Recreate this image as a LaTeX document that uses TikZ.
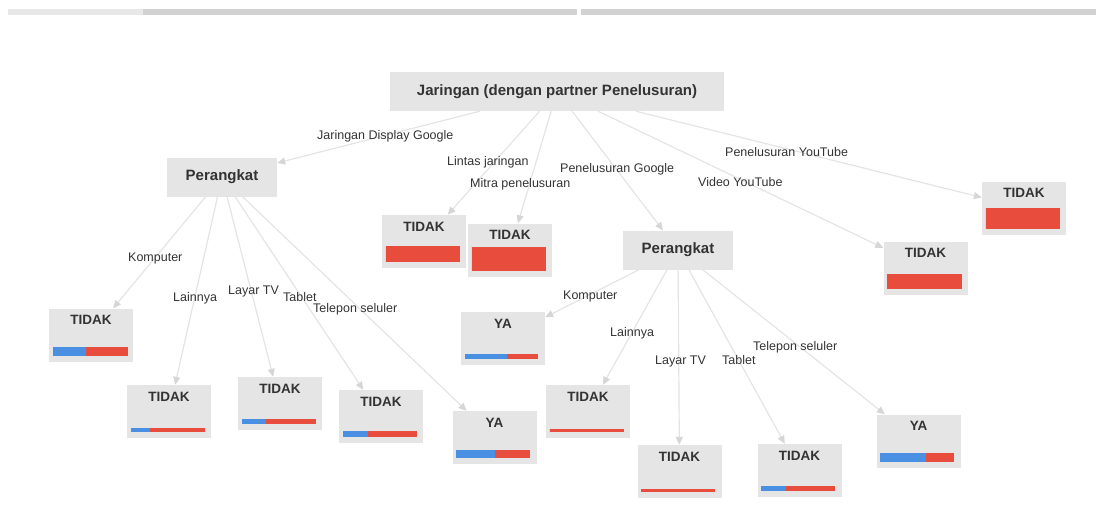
\documentclass[tikz,border=0pt]{standalone}
\usepackage{fontspec}
\setmainfont{Liberation Sans}
\usetikzlibrary{arrows.meta,calc}

\definecolor{boxgray}{HTML}{E5E5E5}
\definecolor{edgegray}{HTML}{E4E4E4}
\definecolor{tipgray}{HTML}{D6D6D6}
\definecolor{barred}{HTML}{E74C3C}
\definecolor{barblue}{HTML}{4A90E2}
\definecolor{txtgray}{HTML}{333333}

% bar at the foot of a leaf: node, blue width, red width, height
\newcommand{\leafbar}[4]{%
  \fill[barblue] ($(#1.south west)+(4,-6)$) rectangle ++(#2,-#4);
  \fill[barred] ($(#1.south west)+(4+#2,-6)$) rectangle ++(#3,-#4);}

\begin{document}
\begin{tikzpicture}[x=1pt,y=-1pt,
    box/.style={fill=boxgray,text=txtgray,inner sep=0pt,minimum width=110pt,minimum height=39pt,font=\bfseries\fontsize{15}{18}\selectfont},
    leaf/.style={fill=boxgray,text=txtgray,inner sep=0pt,minimum width=84pt,text height=16pt,text depth=37pt,font=\bfseries\fontsize{13.5}{16}\selectfont},
    edge/.style={edgegray,line width=1.2pt,-{Triangle[length=8pt,width=7pt,color=tipgray]}},
    lbl/.style={anchor=base west,inner sep=0pt,text=txtgray,font=\fontsize{12.5}{15}\selectfont}]
    \useasboundingbox (0,0) rectangle (1096,515);

    % Top bar
    \fill[gray!18] (8,9) rectangle (143,15);
    \fill[gray!35] (143,9) rectangle (577,15);
    \fill[gray!35] (581,9) rectangle (1096,15);

    % Root
    \node[box,minimum width=334pt] (root) at (557,91.5) {Jaringan (dengan partner Penelusuran)};

    % Second level
    \node[box] (perL) at (222,177) {Perangkat};
    \node[leaf] (lintas) at (424,241.5) {TIDAK};
    \node[leaf] (mitra) at (510,250) {TIDAK};
    \node[box] (perR) at (678,250) {Perangkat};
    \node[leaf] (ytVideo) at (925.5,268) {TIDAK};
    \node[leaf] (ytSearch) at (1024,208) {TIDAK};

    % Devices, left
    \node[leaf] (lKomp) at (91,335) {TIDAK};
    \node[leaf] (lLain) at (169,411.5) {TIDAK};
    \node[leaf] (lTv) at (280,403.5) {TIDAK};
    \node[leaf] (lTab) at (381,416.5) {TIDAK};
    \node[leaf] (lTel) at (494.5,437.5) {YA};

    % Devices, right
    \node[leaf] (rKomp) at (503,338.5) {YA};
    \node[leaf] (rLain) at (588,411.5) {TIDAK};
    \node[leaf] (rTv) at (679.5,471.5) {TIDAK};
    \node[leaf] (rTab) at (799.5,470.5) {TIDAK};
    \node[leaf] (rTel) at (918.5,441) {YA};

    % Bars
    \leafbar{lintas}{0}{74}{16}
    \leafbar{mitra}{0}{74}{24}
    \leafbar{ytVideo}{0}{75}{15}
    \leafbar{ytSearch}{0}{74}{21}
    \leafbar{lKomp}{33}{42}{9}
    \leafbar{lLain}{19}{55}{4}
    \leafbar{lTv}{24}{50}{5}
    \leafbar{lTab}{25}{49}{6}
    \leafbar{lTel}{39}{35}{8}
    \leafbar{rKomp}{42}{31}{5}
    \leafbar{rLain}{0}{74}{3}
    \leafbar{rTv}{0}{74}{3}
    \leafbar{rTab}{25}{49}{5}
    \leafbar{rTel}{46}{28}{9}

    % Edges
    \draw[edge] (root) -- (perL);
    \draw[edge] (root) -- (lintas);
    \draw[edge] (root) -- (mitra);
    \draw[edge] (root) -- (perR);
    \draw[edge] (root) -- (ytVideo);
    \draw[edge] (root) -- (ytSearch);
    \draw[edge] (perL) -- (lKomp);
    \draw[edge] (perL) -- (lLain);
    \draw[edge] (perL) -- (lTv);
    \draw[edge] (perL) -- (lTab);
    \draw[edge] (perL) -- (lTel);
    \draw[edge] (perR) -- (rKomp);
    \draw[edge] (perR) -- (rLain);
    \draw[edge] (perR) -- (rTv);
    \draw[edge] (perR) -- (rTab);
    \draw[edge] (perR) -- (rTel);

    % Labels
    \node[lbl] (tDisplay) at (317,139) {Jaringan Display Google};
    \node[lbl] (tLintas) at (447,165) {Lintas jaringan};
    \node[lbl] (tMitra) at (470,187) {Mitra penelusuran};
    \node[lbl] (tGoogle) at (560,172) {Penelusuran Google};
    \node[lbl] (tYtSearch) at (725,156) {Penelusuran YouTube};
    \node[lbl] (tYtVideo) at (698,186) {Video YouTube};
    \node[lbl] (tlKomp) at (128,261) {Komputer};
    \node[lbl] (tlLain) at (173,301) {Lainnya};
    \node[lbl] (tlTv) at (228,294) {Layar TV};
    \node[lbl] (tlTab) at (283,301) {Tablet};
    \node[lbl] (tlTel) at (313,312) {Telepon seluler};
    \node[lbl] (trKomp) at (563,299) {Komputer};
    \node[lbl] (trLain) at (610,336) {Lainnya};
    \node[lbl] (trTv) at (655,364) {Layar TV};
    \node[lbl] (trTab) at (722,364) {Tablet};
    \node[lbl] (trTel) at (753,350) {Telepon seluler};
\end{tikzpicture}
\end{document}
